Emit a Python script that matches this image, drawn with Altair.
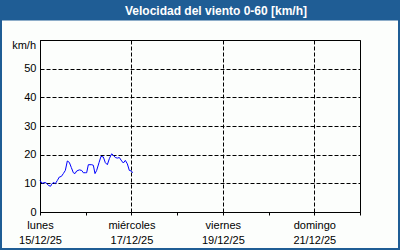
import altair as alt
import pandas as pd

# Wind speed series: hours since Monday 15/12/25 00:00 and km/h
hours = [0, 1.05, 2.63, 3.5, 4.55, 5.6, 6.13, 7.0, 8.05, 9.1, 10.15, 11.2, 12.25, 13.3,
         14.35, 15.4, 16.45, 17.5, 18.38, 19.25, 20.65, 21.88, 22.75, 23.8, 24.5, 25.38,
         27.13, 28.0, 28.88, 29.75, 30.98, 32.03, 33.25, 34.3, 35.35, 36.4, 37.63, 38.5,
         39.55, 40.6, 41.65, 42.88, 43.75, 44.8, 45.85, 46.9, 47.95, 48.65]
speed = [11.0, 10.0, 10.3, 10.0, 9.2, 9.0, 9.7, 10.3, 9.9, 11.0, 12.2, 12.4, 13.4, 14.5,
         17.8, 17.3, 15.5, 13.7, 13.4, 14.3, 14.7, 14.5, 13.7, 13.7, 13.7, 16.5,
         16.5, 16.3, 13.4, 14.5, 17.2, 19.4, 19.2, 17.2, 16.5, 18.6, 20.3, 19.8,
         19.0, 18.8, 19.0, 17.8, 17.1, 18.0, 16.8, 14.5, 14.3, 13.7]

day_ticks = [0, 24, 48, 72, 96, 120, 144, 168]
label_hours = [0, 48, 96, 144]
day_names = ["lunes", "miércoles", "viernes", "domingo"]
day_dates = ["15/12/25", "17/12/25", "19/12/25", "21/12/25"]
y_ticks = [0, 10, 20, 30, 40, 50, 60]

title_text = "Velocidad del viento 0-60 [km/h]"
unit_text = "km/h"

FONT = "Liberation Sans"
BLUE = "#1f5d95"

df = pd.DataFrame({"h": hours, "v": speed})
one = pd.DataFrame({"a": [0]})

idx = f"indexof({label_hours}, datum.value)"
names_js = "[" + ",".join(f"'{n}'" for n in day_names) + "]"
dates_js = "[" + ",".join(f"'{d}'" for d in day_dates) + "]"
x_label_expr = f"{idx} >= 0 ? [{names_js}[{idx}], {dates_js}[{idx}]] : ''"

x_axis = alt.Axis(
    values=day_ticks, title=None, labelExpr=x_label_expr,
    labelFont=FONT, labelFontSize=11, labelColor="black",
    labelAlign="center", labelBaseline="top", labelPadding=4,
    labelLineHeight=15, labelFlush=False, labelOverlap=False,
    tickSize=3, tickColor="black", domainColor="black",
    grid=True, gridColor="black", gridDash=[4, 2],
    gridOpacity={"condition": {"test": "datum.value % 48 == 0", "value": 1}, "value": 0},
)
y_axis = alt.Axis(
    values=y_ticks, title=None,
    labelExpr="datum.value == 60 ? '' : datum.label",
    labelFont=FONT, labelFontSize=11, labelColor="black",
    labelPadding=4, labelFlush=False, labelOverlap=False,
    ticks=False, domainColor="black",
    grid=True, gridColor="black", gridDash=[4, 2],
)

line = alt.Chart(df).mark_line(color="#0000ff", strokeWidth=1).encode(
    x=alt.X("h:Q", scale=alt.Scale(domain=[0, 168], nice=False), axis=x_axis),
    y=alt.Y("v:Q", scale=alt.Scale(domain=[0, 60], nice=False), axis=y_axis),
)

title_bar = alt.Chart(one).mark_rect(color=BLUE).encode(
    x=alt.value(-40), x2=alt.value(360), y=alt.value(-40), y2=alt.value(-19.5)
)
border = alt.Chart(one).mark_rect(fill=None, stroke=BLUE, strokeWidth=2).encode(
    x=alt.value(-39), x2=alt.value(359), y=alt.value(-39), y2=alt.value(209)
)
title = alt.Chart(one).mark_text(
    text=title_text, color="white", font=FONT, fontSize=12, fontWeight="bold",
    align="center", baseline="middle"
).encode(x=alt.value(176), y=alt.value(-29.5))
unit = alt.Chart(one).mark_text(
    text=unit_text, color="black", font=FONT, fontSize=11,
    align="right", baseline="middle"
).encode(x=alt.value(-4), y=alt.value(6))

chart = alt.layer(title_bar, border, title, unit, line).properties(
    width=320, height=172,
    autosize=alt.AutoSizeParams(type="none"),
    padding={"left": 40, "top": 40, "right": 40, "bottom": 38},
    background="#fcfefc",
).configure_view(stroke="black", strokeWidth=1)

chart.save("out.html", embed_options={"renderer": "svg", "actions": False})
